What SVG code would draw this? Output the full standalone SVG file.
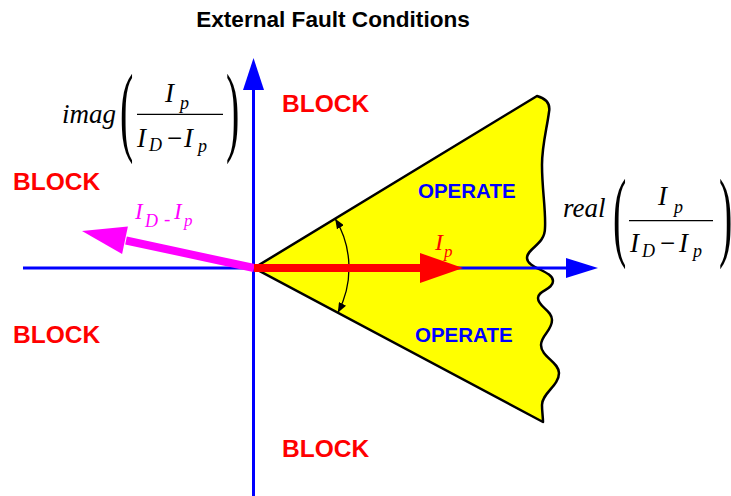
<svg xmlns="http://www.w3.org/2000/svg" width="731" height="496" viewBox="0 0 731 496">
<style>
.title{font-family:"Liberation Sans",Arial,sans-serif;font-weight:bold;font-size:22.6px;fill:#000}
.block{font-family:"Liberation Sans",Arial,sans-serif;font-weight:bold;font-size:24.5px;fill:#ff0000}
.oper{font-family:"Liberation Sans",Arial,sans-serif;font-weight:bold;font-size:20.5px;fill:#0000ff}
.m{font-family:"Liberation Serif","Times New Roman",serif;font-style:italic;font-size:27px;fill:#000}
.ms{font-family:"Liberation Serif","Times New Roman",serif;font-style:italic;font-size:18px;fill:#000}
.mr{font-family:"Liberation Serif","Times New Roman",serif;font-size:27px;fill:#000}
.par{font-family:"Liberation Serif","Times New Roman",serif;font-size:40px;fill:#000}
.axis{stroke:#0000ff;stroke-width:3;fill:none}
.red{fill:#ff0000}
.mag{fill:#ff00ff}
</style>
<defs>
<marker id="ah" viewBox="0 0 10 8" refX="10" refY="4" markerWidth="10" markerHeight="8" markerUnits="userSpaceOnUse" orient="auto-start-reverse">
<path d="M0,0 L10,4 L0,8 Z" fill="#000"/>
</marker>
</defs>
<text class="title" x="333" y="27" text-anchor="middle">External Fault Conditions</text>
<g id="operate-region">
<path d="M254,268 L537,96 C544,98 551,102 549,112 C547,128 542,145 542,165 C542,190 546,210 545,228 C545,245 527,248 527,258 C527,268 553,271 553,281 C553,290 538,290 538,298 C538,307 552,310 552,320 C552,331 541,335 541,345 C541,357 559,362 559,373 C559,386 542,393 542,405 C542,412 543,417 543,422 Z" fill="#ffff00" stroke="#000" stroke-width="2.5" stroke-linejoin="round"/>
<text class="oper" x="418" y="198">OPERATE</text>
<text class="oper" x="415" y="342">OPERATE</text>
</g>
<g id="connectors">
<line class="axis" x1="23" y1="268" x2="568" y2="268"/>
<polygon points="566,258 598,268 566,278" fill="#0000ff"/>
<line class="axis" x1="253.5" y1="88" x2="253.5" y2="496"/>
<polygon points="243,90 253.5,58 264,90" fill="#0000ff"/>
<path d="M335.2,218.7 A95,95 0 0 1 337.8,312.7" fill="none" stroke="#000" stroke-width="1.3" marker-start="url(#ah)" marker-end="url(#ah)"/>
<line x1="254" y1="268" x2="126" y2="240.5" stroke="#ff00ff" stroke-width="8"/>
<polygon points="82,231 122.1,254 127.9,226.6" fill="#ff00ff"/>
<line x1="254" y1="268" x2="424" y2="268" stroke="#ff0000" stroke-width="8"/>
<polygon points="420,253 463,268 420,283" fill="#ff0000"/>
</g>
<g id="labels">
<text class="block" x="282" y="112">BLOCK</text>
<text class="block" x="13" y="190">BLOCK</text>
<text class="block" x="13" y="343">BLOCK</text>
<text class="block" x="282" y="457">BLOCK</text>
<text class="m red" x="435" y="250" style="font-size:24px">I</text>
<text class="ms red" x="444" y="257" style="font-size:17px">p</text>
<text class="m mag" x="135" y="219" style="font-size:23px">I</text>
<text class="ms mag" x="145" y="226.5" style="font-size:18px">D</text>
<text class="mr mag" x="164" y="225" style="font-size:19px">-</text>
<text class="m mag" x="174" y="219" style="font-size:23px">I</text>
<text class="ms mag" x="184" y="226" style="font-size:17px">p</text>
</g>
<g id="imag-label">
<text class="m" x="62" y="123">imag</text>
<text class="par" transform="translate(120,142.6) scale(1,2.5)">(</text>
<text class="par" transform="translate(226,142.6) scale(1,2.5)">)</text>
<text class="m" x="165" y="102">I</text>
<text class="ms" x="180" y="109">p</text>
<line x1="137" y1="114.3" x2="223" y2="114.3" stroke="#000" stroke-width="1.3"/>
<text class="m" x="137" y="147">I</text>
<text class="ms" x="149" y="151">D</text>
<text class="mr" x="167" y="147">−</text>
<text class="m" x="184" y="147">I</text>
<text class="ms" x="198" y="152">p</text>
</g>
<g id="real-label">
<text class="m" x="563" y="217">real</text>
<text class="par" transform="translate(613,248) scale(1,2.5)">(</text>
<text class="par" transform="translate(719,248) scale(1,2.5)">)</text>
<text class="m" x="658" y="205">I</text>
<text class="ms" x="674" y="213">p</text>
<line x1="629" y1="220.7" x2="713" y2="220.7" stroke="#000" stroke-width="1.3"/>
<text class="m" x="630" y="252">I</text>
<text class="ms" x="642" y="257">D</text>
<text class="mr" x="660" y="252">−</text>
<text class="m" x="679" y="252">I</text>
<text class="ms" x="693" y="257">p</text>
</g>
</svg>
